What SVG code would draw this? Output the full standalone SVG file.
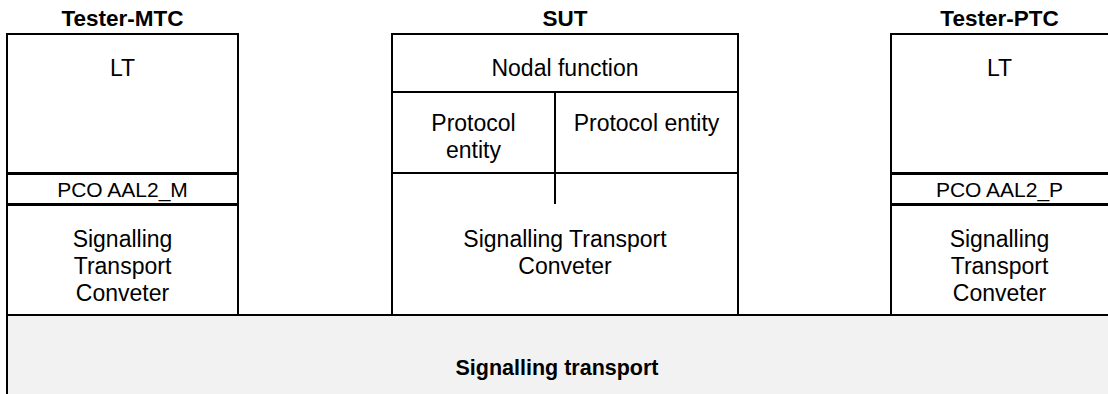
<svg xmlns="http://www.w3.org/2000/svg" width="1108" height="394" viewBox="0 0 1108 394">
<style>
.box{fill:#fff;stroke:#000;stroke-width:2}
.ln{stroke:#000;stroke-width:2;fill:none}
.pl{stroke:#000;stroke-width:3;fill:none}
.t{font-family:"Liberation Sans",Arial,sans-serif;font-size:23px;fill:#000;text-anchor:middle}
.s{font-size:21px}
.b{font-weight:bold;font-size:22.5px}
.bb{font-weight:bold;font-size:21.5px}
</style>
<rect width="1108" height="394" fill="#fff"/>
<g id="transport">
<rect x="7" y="315" width="1110" height="90" fill="#f2f2f2" stroke="#000" stroke-width="2"/>
<text class="t bb" x="557" y="375">Signalling transport</text>
</g>
<g id="tester-mtc">
<text class="t b" x="122.5" y="26">Tester-MTC</text>
<rect class="box" x="7" y="34" width="231" height="281"/>
<line class="pl" x1="7" y1="173.5" x2="238" y2="173.5"/>
<line class="pl" x1="7" y1="204.5" x2="238" y2="204.5"/>
<text class="t" x="122.5" y="76">LT</text>
<text class="t s" x="122.5" y="197">PCO AAL2_M</text>
<text class="t" x="122.5" y="247">Signalling</text>
<text class="t" x="122.5" y="274">Transport</text>
<text class="t" x="122.5" y="301">Conveter</text>
</g>
<g id="sut">
<text class="t b" x="565" y="26">SUT</text>
<rect class="box" x="392" y="34" width="346" height="281"/>
<line class="ln" x1="392" y1="92" x2="738" y2="92"/>
<line class="ln" x1="392" y1="173" x2="738" y2="173"/>
<line class="ln" x1="555" y1="92" x2="555" y2="204"/>
<text class="t" x="565" y="76">Nodal function</text>
<text class="t" x="473.5" y="131">Protocol</text>
<text class="t" x="473.5" y="158">entity</text>
<text class="t" x="646.5" y="131">Protocol entity</text>
<text class="t" x="565" y="247">Signalling Transport</text>
<text class="t" x="565" y="274">Conveter</text>
</g>
<g id="tester-ptc">
<text class="t b" x="999.5" y="26">Tester-PTC</text>
<rect class="box" x="891" y="34" width="230" height="281"/>
<line class="pl" x1="891" y1="173.5" x2="1108" y2="173.5"/>
<line class="pl" x1="891" y1="204.5" x2="1108" y2="204.5"/>
<text class="t" x="999.5" y="76">LT</text>
<text class="t s" x="999.5" y="197">PCO AAL2_P</text>
<text class="t" x="999.5" y="247">Signalling</text>
<text class="t" x="999.5" y="274">Transport</text>
<text class="t" x="999.5" y="301">Conveter</text>
</g>
<g id="connectors"></g>
</svg>
